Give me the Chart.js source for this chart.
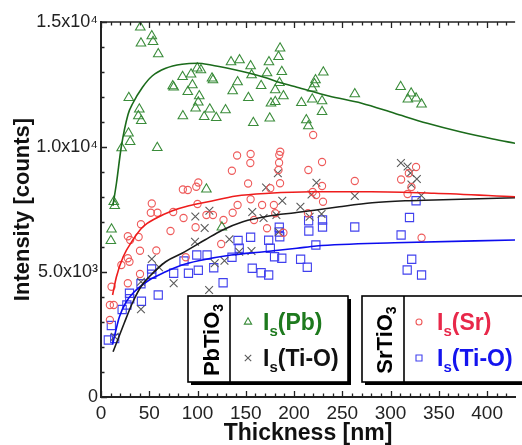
<!DOCTYPE html>
<html><head><meta charset="utf-8">
<script src="https://cdn.jsdelivr.net/npm/chart.js@4.4.1/dist/chart.umd.min.js"></script>
<style>html,body{margin:0;padding:0;background:#fff;overflow:hidden}canvas{display:block}</style>
</head><body>
<canvas id="c" width="522" height="445"></canvas>
<script>
// ---- data ----
const pbX = [40.7,52.6,41.4,53.9,59.3,28.8,39.7,38.7,41.7,28.5,30.2,21.4,58.3,74.3,75.3,84.5,93.3,99.7,103.5,94.7,89.9,101.8,100.8,98.0,84.8,106.9,112.7,116.0,115.0,119.4,129.0,134.7,143.5,141.5,136.4,152.7,157.8,155.0,156.0,165.9,172.0,174.0,180.5,176.1,180.5,189.0,174.8,183.9,185.5,187.3,184.9,207.6,212.7,214.8,218.8,221.2,222.2,230.3,218.8,229.0,229.0,262.9,310.4,321.3,317.9,326.4,332.1,13.2,14.2,10.9,10.2,109.2,125.2];
const pbY = [14790,14440,14150,14210,13720,11970,11510,11240,11050,10550,10210,9960,9970,12440,12390,12810,12910,13150,13080,12480,12210,12040,11790,11550,11240,11210,11510,12680,12750,11170,11480,13400,13480,12600,12240,11970,10970,13240,12880,12450,12960,13400,12280,11750,11810,12040,11150,13610,13950,13010,12570,11770,11080,10840,11910,12520,12680,12990,12350,11840,11410,12120,12410,12150,11910,11950,11710,7810,7650,6710,6250,8310,6790];

const tiPbX = [183.2,171.0,187.8,156.7,168.4,181.7,184.2,97.7,112.3,107.4,97.4,133.0,155.9,143.2,127.9,117.8,112.0,52.6,60.1,41.4,75.3,41.4,206.6,223.2,218.1,262.9,310.7,317.6,320.6,327.2,321.6,331.8,216.1,228.5,14.2];
const tiPbY = [8950,8380,7850,7400,7160,7280,6600,7220,7450,6760,6210,6310,5840,5810,5450,5350,4280,5520,5190,4610,4550,3510,7610,8570,8100,8040,9360,9220,8960,8720,8500,8060,7210,7320,2410];

const srX = [141.0,155.0,154.7,135.6,184.7,185.7,184.5,183.9,214.8,219.8,229.0,229.0,219.3,222.9,230.0,214.4,262.9,310.9,318.9,326.4,321.6,317.6,332.1,152.4,185.5,175.4,155.0,141.5,166.9,179.1,136.4,109.2,116.0,158.5,180.5,126.9,172.0,189.0,124.5,100.8,98.7,89.9,84.8,100.0,52.6,51.6,58.5,74.8,85.5,41.4,27.8,30.2,39.0,72.0,98.0,40.4,57.3,29.5,21.1,27.8,40.4,27.8,10.9,9.2,13.2,9.2,87.8];
const srY = [9660,9720,9360,9050,9680,9810,9370,9080,9080,10480,9400,8440,8200,8080,7810,7350,8640,8700,8950,9200,8400,8120,6370,8540,8550,8350,7910,7680,7680,7680,7370,7280,7280,7080,7350,7080,6750,6570,6120,8580,8410,8280,8300,7720,7740,7370,7370,7400,7160,6910,6430,6280,6400,6640,6790,5850,5860,5410,5280,5550,4920,4550,4410,3680,3680,3080,5590];

const tiSrX = [215.1,215.3,184.7,184.7,185.2,155.0,173.7,175.4,142.0,187.3,179.8,206.8,213.7,135.7,116.8,156.7,165.9,173.7,126.5,109.9,143.2,99.2,86.0,90.6,100.8,75.3,59.3,52.4,52.6,41.4,41.9,29.5,29.8,26.8,21.9,10.7,14.2,7.6,229.5,229.5,222.6,262.9,310.9,319.6,326.4,321.9,317.2,332.1];
const tiSrY = [7050,6640,6790,6600,6410,6390,6270,5950,6260,5550,5610,5510,5190,5590,5170,5150,4970,4880,4570,5680,5950,5680,5440,4950,5070,4950,4080,5120,4910,4530,3830,4150,3930,3680,3500,2860,2340,2280,7080,6800,6080,6800,6480,7180,7850,5510,5080,4880];

// fit curves
const pbFitX = [12.3,16,21,28,33,43,53,67,84,100,114,135,152,169,186,203,236,270,304,338,372,406,429];
const pbFitY = [7650,8550,10000,11300,11750,12390,12840,13150,13310,13350,13280,13120,12970,12790,12570,12390,12040,11750,11350,10950,10610,10320,10150];
const srFitX = [12,16,23,33,43,57,74,91,111,140,174,218,280,345,429];
const srFitY = [4080,4810,5610,6280,6790,7150,7450,7650,7810,8040,8150,8210,8210,8150,8010];
const tiPbFitX = [12.5,24,33,42,50,67,84,108,126,147,174,201,223,247,281,315,345,429];
const tiPbFitY = [1810,2950,3800,4450,4810,5410,5750,6290,6680,7010,7240,7370,7480,7610,7770,7850,7880,7970];
const tiSrFitX = [12,19,26,33,50,67,84,101,135,169,203,223,304,429];
const tiSrFitY = [2100,3200,3800,4150,4680,5010,5280,5450,5680,5810,5950,6040,6170,6280];

const xTickStep = 50;
const yTickLabels = {0:'0', 5000:'5.0x10³', 10000:'1.0x10⁴', 15000:'1.5x10⁴'};

const FONT = "'Liberation Sans', Arial, Helvetica, sans-serif";
const pts = (xs, ys) => xs.map((x, i) => ({x, y: ys[i]}));

const C = {
  pbMark:'#3a8c3a', pbLine:'#1b6b1b', pbText:'#1e7a1e',
  srMark:'#ee5a5a', srLine:'#ee1c1c', srText:'#e8284a',
  tiPbMark:'#5a5a5a', tiPbLine:'#1a1a1a', tiPbText:'#111',
  tiSrMark:'#4040ee', tiSrLine:'#0c0cee', tiSrText:'#1414ee'
};

function lineDs(xs, ys, color){
  return {type:'scatter', data: pts(xs, ys), showLine:true, borderColor:color, borderWidth:1.6,
    pointRadius:0, fill:false, cubicInterpolationMode:'monotone', order:0};
}
function markDs(xs, ys, style, color, r){
  return {type:'scatter', data: pts(xs, ys), showLine:false, pointStyle:style, pointRadius:r,
    borderColor:color, backgroundColor:'rgba(0,0,0,0)', borderWidth:1.1, order:1};
}

function mark(ctx, style, x, y, color){
  ctx.save(); ctx.strokeStyle = color; ctx.lineWidth = 1.1; ctx.beginPath();
  if (style === 'triangle'){ const r=4.2; ctx.moveTo(x, y-r); ctx.lineTo(x+r*0.866, y+r/2); ctx.lineTo(x-r*0.866, y+r/2); ctx.closePath(); }
  else if (style === 'cross'){ const r=3.2; ctx.moveTo(x-r,y-r); ctx.lineTo(x+r,y+r); ctx.moveTo(x+r,y-r); ctx.lineTo(x-r,y+r); }
  else if (style === 'circle'){ ctx.arc(x, y, 3, 0, Math.PI*2); }
  else { ctx.rect(x-3, y-3, 6, 6); }
  ctx.stroke(); ctx.restore();
}
function isLabel(ctx, x, base, rest, color){
  ctx.fillStyle = color; ctx.textAlign = 'left'; ctx.textBaseline = 'alphabetic';
  ctx.font = 'bold 23px ' + FONT; ctx.fillText('I', x, base);
  let cx = x + ctx.measureText('I').width;
  ctx.font = 'bold 15px ' + FONT; ctx.fillText('s', cx, base + 6);
  cx += ctx.measureText('s').width;
  ctx.font = 'bold 23px ' + FONT; ctx.fillText(rest, cx, base);
}
function vertFormula(ctx, cx, cy, main, sub){
  ctx.save(); ctx.translate(cx, cy); ctx.rotate(-Math.PI/2);
  ctx.fillStyle = '#000'; ctx.textBaseline = 'alphabetic'; ctx.textAlign = 'left';
  ctx.font = 'bold 22px ' + FONT; const w1 = ctx.measureText(main).width;
  ctx.font = 'bold 14px ' + FONT; const w2 = ctx.measureText(sub).width;
  const start = -(w1 + w2) / 2;
  ctx.font = 'bold 22px ' + FONT; ctx.fillText(main, start, 8);
  ctx.font = 'bold 14px ' + FONT; ctx.fillText(sub, start + w1, 12);
  ctx.restore();
}
function box(ctx, l, t, r, b, div){
  ctx.save();
  ctx.fillStyle = '#000'; ctx.fillRect(l+3, t+3, r-l, b-t);
  ctx.fillStyle = '#fff'; ctx.fillRect(l, t, r-l, b-t);
  ctx.strokeStyle = '#000'; ctx.lineWidth = 1.6; ctx.strokeRect(l, t, r-l, b-t);
  ctx.beginPath(); ctx.moveTo(div, t); ctx.lineTo(div, b); ctx.stroke();
  ctx.restore();
}

const framePlugin = {
  id:'frame',
  afterDatasetsDraw(chart){
    const {ctx, chartArea:a, scales:{x, y}} = chart;
    ctx.save();
    ctx.strokeStyle = '#222'; ctx.lineWidth = 1.6;
    ctx.beginPath(); ctx.moveTo(a.left, a.top); ctx.lineTo(a.right, a.top); ctx.stroke();
    ctx.lineWidth = 1.3; ctx.beginPath();
    for (let v = 0; v <= x.max; v += 10){
      const px = Math.round(x.getPixelForValue(v)) + 0.5;
      const len = v % 50 === 0 ? 6 : 3.5;
      ctx.moveTo(px, a.bottom); ctx.lineTo(px, a.bottom - len);
      ctx.moveTo(px, a.top); ctx.lineTo(px, a.top + len);
    }
    for (let v = 0; v <= y.max; v += 1000){
      const py = Math.round(y.getPixelForValue(v)) + 0.5;
      const len = v % 5000 === 0 ? 6 : 3.5;
      ctx.moveTo(a.left, py); ctx.lineTo(a.left + len, py);
    }
    ctx.stroke();
    // legend boxes
    box(ctx, 188, 296, 348, 382, 230);
    vertFormula(ctx, 211, 340, 'PbTiO', '3');
    mark(ctx, 'triangle', 248, 322, C.pbMark);
    isLabel(ctx, 263, 329.5, '(Pb)', C.pbText);
    mark(ctx, 'cross', 248, 358, C.tiPbMark);
    isLabel(ctx, 263, 365.5, '(Ti-O)', C.tiPbText);
    box(ctx, 362, 296, 540, 382, 404);
    vertFormula(ctx, 384, 340, 'SrTiO', '3');
    mark(ctx, 'circle', 419, 322, C.srMark);
    isLabel(ctx, 437, 329.5, '(Sr)', C.srText);
    mark(ctx, 'square', 419, 358, C.tiSrMark);
    isLabel(ctx, 437, 365.5, '(Ti-O)', C.tiSrText);
    ctx.restore();
  }
};

new Chart(document.getElementById('c'), {
  type:'scatter',
  data:{ datasets:[
    lineDs(pbFitX, pbFitY, C.pbLine),
    lineDs(srFitX, srFitY, C.srLine),
    lineDs(tiPbFitX, tiPbFitY, C.tiPbLine),
    lineDs(tiSrFitX, tiSrFitY, C.tiSrLine),
    markDs(pbX, pbY, 'triangle', C.pbMark, 5.5),
    markDs(srX, srY, 'circle', C.srMark, 3.6),
    markDs(tiPbX, tiPbY, 'crossRot', C.tiPbMark, 5.5),
    markDs(tiSrX, tiSrY, 'rect', C.tiSrMark, 5.8)
  ]},
  options:{
    responsive:false, animation:false, devicePixelRatio:1,
    layout:{padding:{top:22, right:0, bottom:0, left:0}},
    plugins:{legend:{display:false}, tooltip:{enabled:false}},
    scales:{
      x:{type:'linear', min:0, max:429,
        afterFit(s){ s.height = 48; },
        grid:{display:true, drawOnChartArea:false, drawTicks:false},
        border:{display:true, color:'#222', width:2},
        ticks:{stepSize:xTickStep, includeBounds:false, autoSkip:false, maxRotation:0, padding:5, color:'#222',
          font:{family:FONT, size:19},
          callback:(v)=> (v % xTickStep === 0 ? String(v) : '')},
        title:{display:true, text:'Thickness [nm]', color:'#111',
          font:{family:FONT, size:23, weight:'bold', lineHeight:1.0}, padding:{top:0, bottom:0}}
      },
      y:{type:'linear', min:0, max:15000,
        afterFit(s){ s.width = 101; },
        grid:{display:true, drawOnChartArea:false, drawTicks:false},
        border:{display:true, color:'#222', width:2},
        ticks:{stepSize:5000, padding:3, color:'#222', font:{family:FONT, size:18},
          callback:(v)=> (yTickLabels[v] !== undefined ? yTickLabels[v] : '')},
        title:{display:true, text:'Intensity [counts]', color:'#111',
          font:{family:FONT, size:22, weight:'bold', lineHeight:1.0}, padding:{top:12, bottom:0}}
      }
    }
  },
  plugins:[framePlugin]
});
</script></body></html>
